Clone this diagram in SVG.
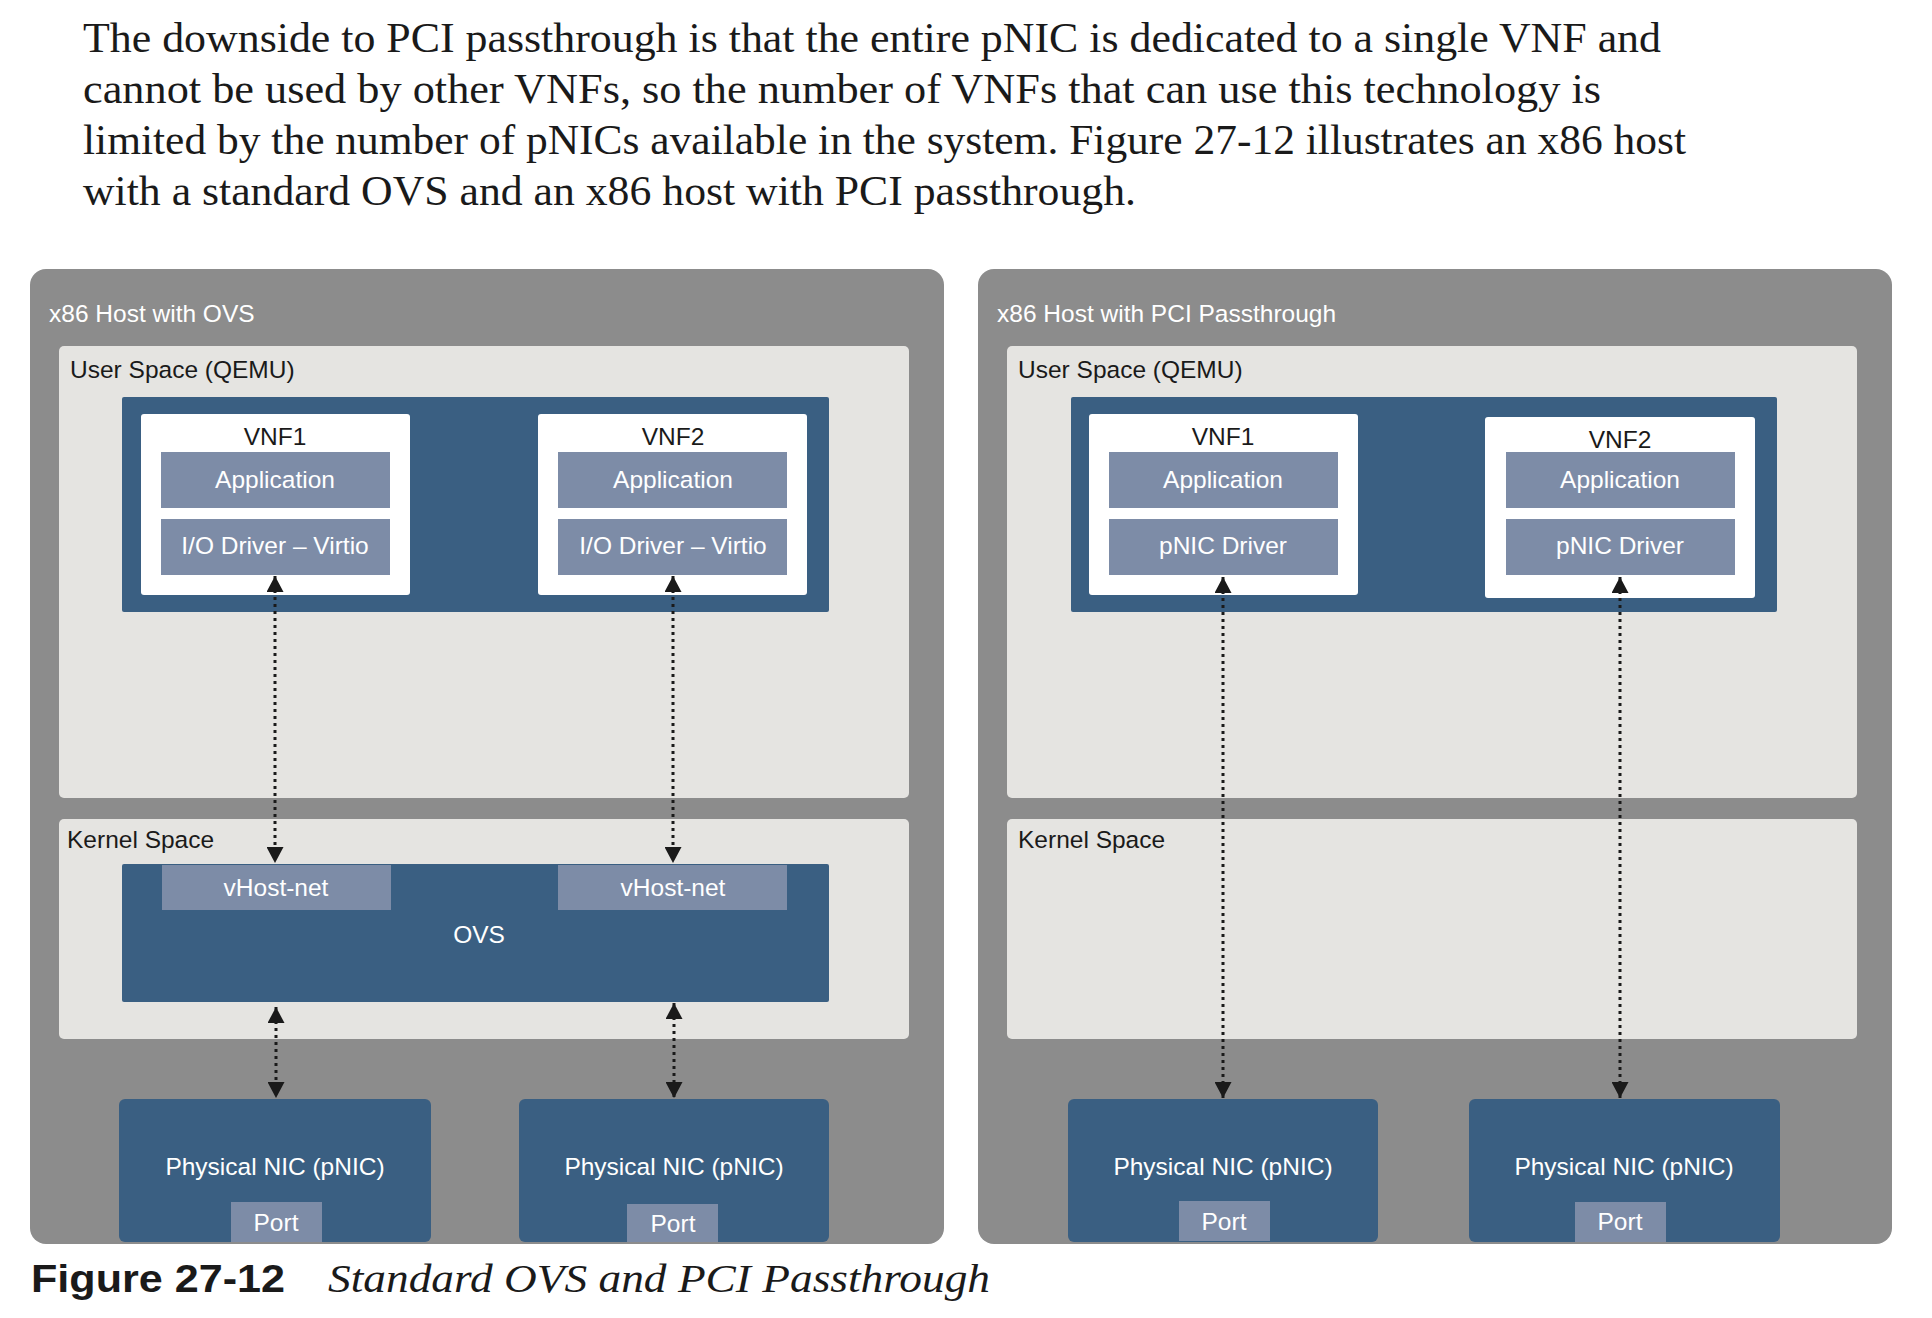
<svg xmlns="http://www.w3.org/2000/svg" width="1932" height="1318" viewBox="0 0 1932 1318">
<style>
.para{font-family:"Liberation Serif","Times New Roman",serif;font-size:43px;fill:#1a1a1a}
.host{fill:#8c8c8c}
.space{fill:#e5e4e1}
.dark{fill:#3a5f82}
.white{fill:#ffffff}
.light{fill:#7d8ca7}
.t{font-family:"Liberation Sans",Arial,sans-serif;font-size:24.5px}
.tw{fill:#ffffff}
.tb{fill:#1a1a1a}
.mid{text-anchor:middle}
.conn{stroke:#1a1a1a;stroke-width:3;stroke-dasharray:3 4;fill:none;marker-start:url(#ah);marker-end:url(#ah)}
</style>
<defs>
<marker id="ah" markerUnits="userSpaceOnUse" markerWidth="17" markerHeight="17" refX="16" refY="8.5" orient="auto-start-reverse" viewBox="0 0 17 17">
<path d="M0,0 L16,8.5 L0,17 z" fill="#1a1a1a"/>
</marker>
</defs>
<rect width="1932" height="1318" fill="#ffffff"/>
<g id="paragraph">
<text class="para" x="83" y="52" textLength="1578" lengthAdjust="spacingAndGlyphs">The downside to PCI passthrough is that the entire pNIC is dedicated to a single VNF and</text>
<text class="para" x="83" y="103" textLength="1518" lengthAdjust="spacingAndGlyphs">cannot be used by other VNFs, so the number of VNFs that can use this technology is</text>
<text class="para" x="83" y="154" textLength="1603" lengthAdjust="spacingAndGlyphs">limited by the number of pNICs available in the system. Figure 27-12 illustrates an x86 host</text>
<text class="para" x="83" y="205" textLength="1053" lengthAdjust="spacingAndGlyphs">with a standard OVS and an x86 host with PCI passthrough.</text>
</g>
<g id="host-ovs">
<rect class="host" x="30" y="269" width="914" height="975" rx="16"/>
<text class="t tw" x="49" y="322">x86 Host with OVS</text>
</g>
<g id="user-space-ovs">
<rect class="space" x="59" y="346" width="850" height="452" rx="5"/>
<text class="t tb" x="70" y="378">User Space (QEMU)</text>
<rect class="dark" x="122" y="397" width="707" height="215" rx="2"/>
</g>
<g id="vnf1-ovs">
<rect class="white" x="141" y="414" width="269" height="181" rx="3"/>
<text class="t tb mid" x="275" y="445">VNF1</text>
<rect class="light" x="161" y="452" width="229" height="56"/>
<text class="t tw mid" x="275" y="488">Application</text>
<rect class="light" x="161" y="519" width="229" height="56"/>
<text class="t tw mid" x="275" y="554">I/O Driver – Virtio</text>
</g>
<g id="vnf2-ovs">
<rect class="white" x="538" y="414" width="269" height="181" rx="3"/>
<text class="t tb mid" x="673" y="445">VNF2</text>
<rect class="light" x="558" y="452" width="229" height="56"/>
<text class="t tw mid" x="673" y="488">Application</text>
<rect class="light" x="558" y="519" width="229" height="56"/>
<text class="t tw mid" x="673" y="554">I/O Driver – Virtio</text>
</g>
<g id="kernel-space-ovs">
<rect class="space" x="59" y="819" width="850" height="220" rx="5"/>
<text class="t tb" x="67" y="848">Kernel Space</text>
</g>
<g id="ovs">
<rect class="dark" x="122" y="864" width="707" height="138" rx="2"/>
<rect class="light" x="162" y="865" width="229" height="45"/>
<text class="t tw mid" x="276" y="896">vHost-net</text>
<rect class="light" x="558" y="865" width="229" height="45"/>
<text class="t tw mid" x="673" y="896">vHost-net</text>
<text class="t tw mid" x="479" y="943">OVS</text>
</g>
<g id="pnic1-ovs">
<rect class="dark" x="119" y="1099" width="312" height="143" rx="6"/>
<text class="t tw mid" x="275" y="1175">Physical NIC (pNIC)</text>
<rect class="light" x="231" y="1202" width="91" height="40"/>
<text class="t tw mid" x="276" y="1231">Port</text>
</g>
<g id="pnic2-ovs">
<rect class="dark" x="519" y="1099" width="310" height="143" rx="6"/>
<text class="t tw mid" x="674" y="1175">Physical NIC (pNIC)</text>
<rect class="light" x="627" y="1204" width="91" height="38"/>
<text class="t tw mid" x="673" y="1232">Port</text>
</g>
<g id="host-pci">
<rect class="host" x="978" y="269" width="914" height="975" rx="16"/>
<text class="t tw" x="997" y="322">x86 Host with PCI Passthrough</text>
</g>
<g id="user-space-pci">
<rect class="space" x="1007" y="346" width="850" height="452" rx="5"/>
<text class="t tb" x="1018" y="378">User Space (QEMU)</text>
<rect class="dark" x="1071" y="397" width="706" height="215" rx="2"/>
</g>
<g id="vnf1-pci">
<rect class="white" x="1089" y="414" width="269" height="181" rx="3"/>
<text class="t tb mid" x="1223" y="445">VNF1</text>
<rect class="light" x="1109" y="452" width="229" height="56"/>
<text class="t tw mid" x="1223" y="488">Application</text>
<rect class="light" x="1109" y="519" width="229" height="56"/>
<text class="t tw mid" x="1223" y="554">pNIC Driver</text>
</g>
<g id="vnf2-pci">
<rect class="white" x="1485" y="417" width="270" height="181" rx="3"/>
<text class="t tb mid" x="1620" y="448">VNF2</text>
<rect class="light" x="1506" y="452" width="229" height="56"/>
<text class="t tw mid" x="1620" y="488">Application</text>
<rect class="light" x="1506" y="519" width="229" height="56"/>
<text class="t tw mid" x="1620" y="554">pNIC Driver</text>
</g>
<g id="kernel-space-pci">
<rect class="space" x="1007" y="819" width="850" height="220" rx="5"/>
<text class="t tb" x="1018" y="848">Kernel Space</text>
</g>
<g id="pnic1-pci">
<rect class="dark" x="1068" y="1099" width="310" height="143" rx="6"/>
<text class="t tw mid" x="1223" y="1175">Physical NIC (pNIC)</text>
<rect class="light" x="1179" y="1201" width="91" height="40"/>
<text class="t tw mid" x="1224" y="1230">Port</text>
</g>
<g id="pnic2-pci">
<rect class="dark" x="1469" y="1099" width="311" height="143" rx="6"/>
<text class="t tw mid" x="1624" y="1175">Physical NIC (pNIC)</text>
<rect class="light" x="1575" y="1202" width="91" height="40"/>
<text class="t tw mid" x="1620" y="1230">Port</text>
</g>
<g id="connectors">
<line class="conn" x1="275" y1="576" x2="275" y2="863"/>
<line class="conn" x1="673" y1="576" x2="673" y2="863"/>
<line class="conn" x1="276" y1="1007" x2="276" y2="1098"/>
<line class="conn" x1="674" y1="1003" x2="674" y2="1098"/>
<line class="conn" x1="1223" y1="577" x2="1223" y2="1098"/>
<line class="conn" x1="1620" y1="577" x2="1620" y2="1098"/>
</g>
<g id="caption">
<text x="31" y="1292" font-family="Liberation Sans,Arial,sans-serif" font-weight="bold" font-size="38" fill="#1a1a1a" textLength="254" lengthAdjust="spacingAndGlyphs">Figure 27-12</text>
<text x="328" y="1292" font-family="Liberation Serif,Times New Roman,serif" font-style="italic" font-size="40" fill="#1a1a1a" textLength="662" lengthAdjust="spacingAndGlyphs">Standard OVS and PCI Passthrough</text>
</g>
</svg>
